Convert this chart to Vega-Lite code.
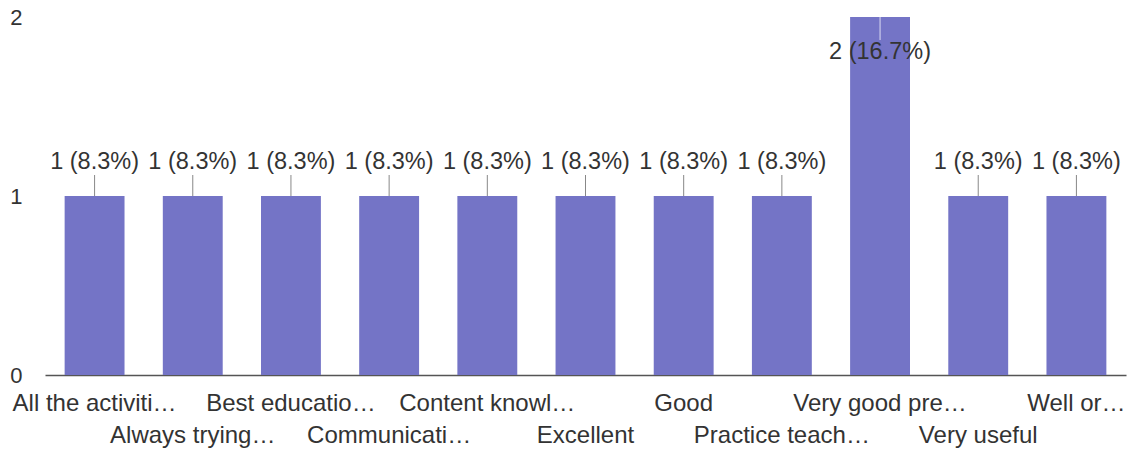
{
  "$schema": "https://vega.github.io/schema/vega-lite/v6.json",
  "width": 1081,
  "height": 358,
  "autosize": {"type": "none"},
  "padding": {"left": 45, "top": 17, "right": 2, "bottom": 77},
  "background": "white",
  "config": {
    "view": {"stroke": null},
    "font": "Liberation Sans"
  },
  "data": {
    "values": [
      {"answer": "All the activiti…", "count": 1, "label": "1 (8.3%)"},
      {"answer": "Always trying…", "count": 1, "label": "1 (8.3%)"},
      {"answer": "Best educatio…", "count": 1, "label": "1 (8.3%)"},
      {"answer": "Communicati…", "count": 1, "label": "1 (8.3%)"},
      {"answer": "Content knowl…", "count": 1, "label": "1 (8.3%)"},
      {"answer": "Excellent", "count": 1, "label": "1 (8.3%)"},
      {"answer": "Good", "count": 1, "label": "1 (8.3%)"},
      {"answer": "Practice teach…", "count": 1, "label": "1 (8.3%)"},
      {"answer": "Very good pre…", "count": 2, "label": "2 (16.7%)"},
      {"answer": "Very useful", "count": 1, "label": "1 (8.3%)"},
      {"answer": "Well or…", "count": 1, "label": "1 (8.3%)"}
    ]
  },
  "encoding": {
    "x": {
      "field": "answer",
      "type": "nominal",
      "sort": null,
      "scale": {"paddingInner": 0.39, "paddingOuter": 0.2},
      "axis": {
        "title": null,
        "labelAngle": 0,
        "ticks": false,
        "domain": true,
        "domainColor": "#555555",
        "domainWidth": 1.5,
        "labelFontSize": 24,
        "labelColor": "#333333",
        "labelPadding": 16,
        "labelBaseline": "top",
        "labelLineHeight": 32,
        "labelLimit": 0,
        "labelOverlap": false,
        "labelFlush": false,
        "labelExpr": "indexof(['Always trying…','Communicati…','Excellent','Practice teach…','Very useful'], datum.value) >= 0 ? ['', datum.label] : datum.label"
      }
    },
    "y": {
      "field": "count",
      "type": "quantitative",
      "scale": {"domain": [0, 2]},
      "axis": {
        "title": null,
        "values": [0, 1, 2],
        "labelExpr": "'' + datum.value",
        "grid": false,
        "ticks": false,
        "domain": false,
        "labelOverlap": false,
        "labelFlush": false,
        "labelFontSize": 22,
        "labelColor": "#333333",
        "labelPadding": 23,
        "labelAlign": "right",
        "labelBaseline": "middle"
      }
    }
  },
  "layer": [
    {"mark": {"type": "bar", "color": "#7474c6"}},
    {
      "transform": [{"filter": "datum.count < 2"}],
      "layer": [
        {
          "mark": {"type": "point", "shape": "M0,-1L0,1", "size": 441, "filled": false, "stroke": "#888888", "strokeWidth": 1, "opacity": 1, "yOffset": -10.5}
        },
        {
          "mark": {"type": "text", "fontSize": 23.5, "color": "#333333", "baseline": "alphabetic", "dy": -27},
          "encoding": {"text": {"field": "label"}}
        }
      ]
    },
    {
      "transform": [{"filter": "datum.count >= 2"}],
      "layer": [
        {
          "mark": {"type": "point", "shape": "M0,-1L0,1", "size": 529, "filled": false, "stroke": "#dcdcf2", "strokeWidth": 1, "opacity": 1, "yOffset": 11.5}
        },
        {
          "mark": {"type": "text", "fontSize": 23.5, "color": "#333333", "baseline": "alphabetic", "dy": 42},
          "encoding": {"text": {"field": "label"}}
        }
      ]
    }
  ]
}
